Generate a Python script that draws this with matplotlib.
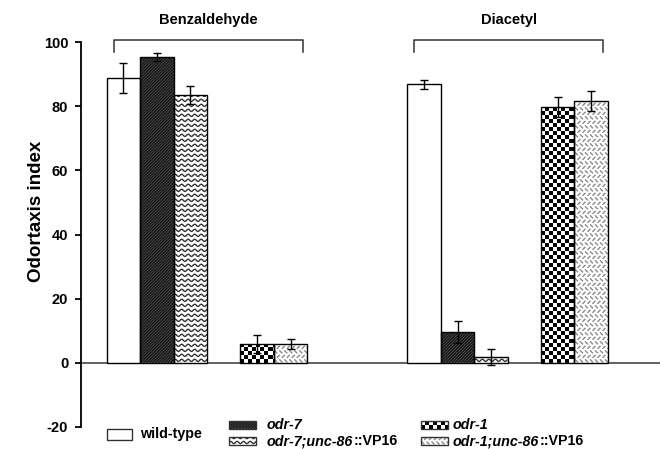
import numpy as np
import matplotlib
matplotlib.use('Agg')
from matplotlib import pyplot as plt
from matplotlib.patches import Rectangle
from matplotlib.collections import LineCollection

odors = ['Benzaldehyde', 'Diacetyl']
strains = ['wild-type', 'odr-7', 'odr-7;unc-86::VP16', 'odr-1', 'odr-1;unc-86::VP16']
fills = ['plain', 'diag', 'wave', 'check', 'dash']
benz_mean = [88.8, 95.3, 83.5, 5.9, 5.9]
benz_sem = [4.7, 1.3, 2.8, 2.8, 1.6]
diac_mean = [86.9, 9.7, 1.9, 79.7, 81.6]
diac_sem = [1.4, 3.4, 2.5, 3.2, 3.1]
# slot 3 is left empty between the odr-7 and odr-1 strains
slots = [0, 1, 2, 4, 5]
group_start = [0, 9]

plt.rcParams['font.family'] = ['Liberation Sans', 'DejaVu Sans']
plt.rcParams['font.weight'] = 'bold'
plt.rcParams['axes.unicode_minus'] = False

W_PX, H_PX = 660, 449
fig = plt.figure(figsize=(6.6, 4.49), dpi=100)
ax = fig.add_axes([80.7 / W_PX, 1 - 427 / H_PX, 1 - 80.7 / W_PX, (427 - 42) / H_PX])
xlim = (-1.28, 16.06)
ylim = (-20, 100)
ux = (xlim[1] - xlim[0]) / (W_PX - 80.7)
uy = (ylim[1] - ylim[0]) / (427 - 42)


def fill_pattern(a, x0, y0, w, h, kind, ux, uy, z=2):
    """Paint a fill pattern inside the rectangle (x0, y0, w, h); ux/uy are data units per pixel."""
    if kind == 'plain':
        return
    clip = Rectangle((x0, y0), w, h, transform=a.transData)
    W, H = w / ux, h / uy

    def P(px, py):
        return x0 + np.asarray(px) * ux, y0 + np.asarray(py) * uy

    segs = []
    color, lw = 'black', 1.0
    if kind == 'diag':
        a.add_patch(Rectangle((x0, y0), w, h, fc='#7a7a7a', ec='none', zorder=z))
        for c in np.arange(-H, W + 3, 3.0):
            xa, ya = P([c, c + H], [0, H])
            segs.append(np.column_stack([xa, ya]))
        color, lw = '#1a1a1a', 1.3
    elif kind == 'wave':
        xs = np.linspace(0, W, 120)
        for r in np.arange(2.5, H, 5.0):
            xa, ya = P(xs, r + 1.1 * np.sin(2 * np.pi * xs / 6.5))
            segs.append(np.column_stack([xa, ya]))
        color, lw = '#333333', 1.0
    elif kind == 'dash':
        for j, py in enumerate(np.arange(2, H + 2, 4.5)):
            d = 1.5 if j % 2 else -1.5
            for px in np.arange(2 + 2.5 * (j % 2), W + 2, 5.0):
                xa, ya = P([px - 1.5, px + 1.5], [py - d, py + d])
                segs.append(np.column_stack([xa, ya]))
        color, lw = '#8a8a8a', 1.0
    elif kind == 'check':
        cell = 4.0
        nx, ny = int(np.ceil(W / cell)), int(np.ceil(H / cell))
        board = (np.add.outer(np.arange(ny), np.arange(nx)) % 2).astype(float)
        im = a.imshow(board, extent=(x0, x0 + nx * cell * ux, y0, y0 + ny * cell * uy),
                      origin='lower', cmap='gray', interpolation='nearest',
                      aspect='auto', zorder=z)
        im.set_clip_path(clip)
        return
    lc = LineCollection(segs, colors=color, linewidths=lw, zorder=z)
    a.add_collection(lc)
    lc.set_clip_path(clip)


for g, (mean, sem) in enumerate([(benz_mean, benz_sem), (diac_mean, diac_sem)]):
    xs = [group_start[g] + s for s in slots]
    bars = ax.bar(xs, mean, width=1.0, color='white', edgecolor='none', zorder=1)
    for bar, kind in zip(bars, fills):
        fill_pattern(ax, bar.get_x(), bar.get_y(), bar.get_width(), bar.get_height(),
                     kind, ux, uy)
    ax.bar(xs, mean, width=1.0, fill=False, edgecolor='black', linewidth=1.0, zorder=3)
    ax.errorbar(xs, mean, yerr=sem, fmt='none', ecolor='black', elinewidth=1.0,
                capsize=3.2, capthick=1.0, zorder=4)

# odor brackets above each group
for g, odor in enumerate(odors):
    s = group_start[g]
    ax.plot([s - 0.29, s - 0.29, s + 5.36, s + 5.36], [96.9, 100.6, 100.6, 96.9],
            color='#333333', lw=1.1, clip_on=False)
    ax.text(s + 2.53, 106.9, odor, ha='center', va='center', fontsize=10.5,
            fontweight='bold')

ax.axhline(0, color='#555555', lw=1.3, zorder=0.5)
ax.set_xlim(xlim)
ax.set_ylim(ylim)
for side in ['top', 'right', 'bottom']:
    ax.spines[side].set_visible(False)
ax.spines['left'].set_linewidth(1.3)
ax.set_xticks([])
ax.set_yticks(np.arange(-20, 101, 20))
ax.tick_params(axis='y', direction='out', length=4, width=1.3, labelsize=10.5, pad=5)
ax.set_ylabel('Odortaxis index', fontsize=13.5, fontweight='bold')
ax.yaxis.set_label_coords(-0.062, 0.56)

# legend drawn in pixel coordinates on an overlay
lg = fig.add_axes([0, 0, 1, 1])
lg.set_xlim(0, W_PX)
lg.set_ylim(H_PX, 0)
lg.axis('off')

legend_pos = [(107, 440, 25, 11, 140, 434),
              (229, 429, 27, 8, 267, 425),
              (229, 445, 27, 8, 267, 441),
              (421, 429, 27, 8, 453, 425),
              (421, 445, 27, 8, 453, 441)]
for name, kind, (sx, sy, sw, sh, tx, ty) in zip(strains, fills, legend_pos):
    lg.add_patch(Rectangle((sx, sy), sw, -sh, fc='white', ec='none', zorder=1))
    fill_pattern(lg, sx, sy, sw, -sh, kind, 1.0, -1.0)
    lg.add_patch(Rectangle((sx, sy), sw, -sh, fill=False, ec='#333333', lw=1.0, zorder=3))
    if name == 'wild-type':
        lg.text(tx, ty, name, ha='left', va='center', fontsize=10.3, fontweight='bold')
        continue
    italic, _, rest = name.partition('::')
    t = lg.text(tx, ty, italic, ha='left', va='center', fontsize=10.3,
                fontweight='bold', fontstyle='italic')
    if rest:
        lg.annotate('::' + rest, xy=(1, 0.5), xycoords=t, ha='left', va='center',
                    fontsize=10.3, fontweight='bold')

fig.savefig('out.png', dpi=100)
